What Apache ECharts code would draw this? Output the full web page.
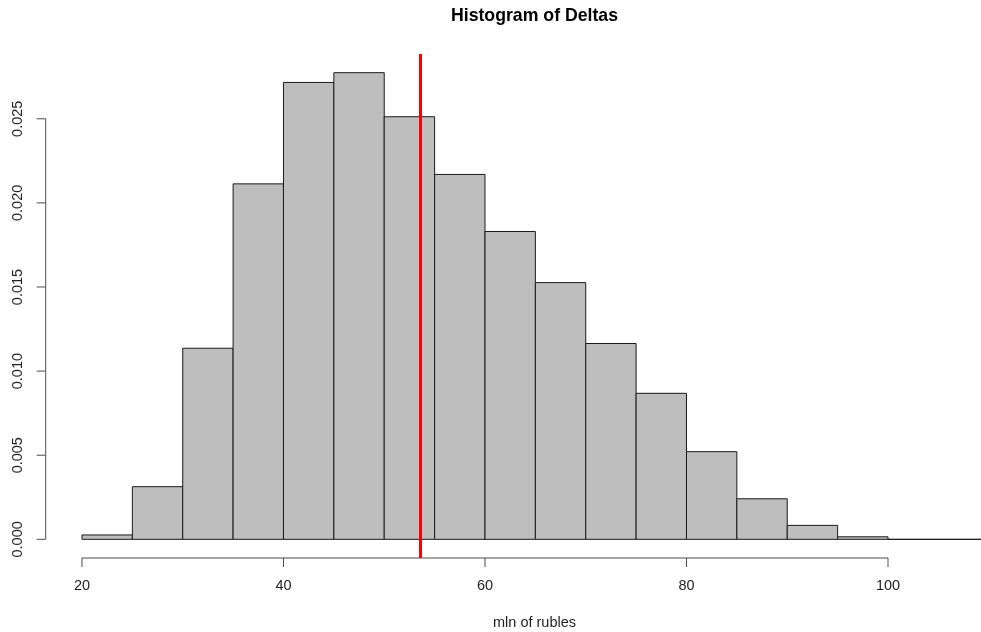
<!DOCTYPE html>
<html>
<head>
<meta charset="utf-8">
<title>Histogram of Deltas</title>
<script src="https://cdn.jsdelivr.net/npm/echarts@6/dist/echarts.min.js"></script>
<style>
  html, body { margin: 0; padding: 0; background: #ffffff; }
  #chart { width: 981px; height: 632px; }
</style>
</head>
<body>
<div id="chart"></div>
<script>
// Histogram bins (left edges, width 5) and their densities
const binStarts = [20, 25, 30, 35, 40, 45, 50, 55, 60, 65, 70, 75, 80, 85, 90, 95, 100, 105];
const binWidth = 5;
const density = [0.00026, 0.00313, 0.01136, 0.02113, 0.02716, 0.02774, 0.02512, 0.02169,
                 0.01830, 0.01526, 0.01164, 0.00868, 0.00521, 0.00241, 0.00083, 0.00015, 0, 0];

// Mean of the deltas, marked with a vertical line
const meanDelta = 53.56;

// Axis ticks
const xTicks = [20, 40, 60, 80, 100];
const yTicks = [0, 0.005, 0.010, 0.015, 0.020, 0.025];
const yTickLabels = ['0.000', '0.005', '0.010', '0.015', '0.020', '0.025'];

const titleText = 'Histogram of Deltas';
const xAxisTitle = 'mln of rubles';

// Plot ranges (data range extended by 4% like base graphics)
const xMin = 16.4, xMax = 109.23;
const yMin = -0.00111, yMax = 0.02885;

const FONT = '"Liberation Sans", Arial, sans-serif';
const AXIS_COLOR = '#4a4a4a';
const TEXT_COLOR = '#1e1e1e';
const TICK_LEN = 9;

const barData = binStarts.map((s, i) => [s, s + binWidth, density[i]]);

const chart = echarts.init(document.getElementById('chart'), null, { renderer: 'canvas' });

chart.setOption({
  animation: false,
  backgroundColor: '#ffffff',
  grid: { left: 45.7, right: 0, top: 54, height: 504 },
  xAxis: {
    type: 'value',
    min: xMin,
    max: xMax,
    axisLine: { show: false, onZero: false },
    splitLine: { show: false },
    axisTick: { show: false },
    axisLabel: {
      customValues: xTicks,
      margin: 20,
      fontSize: 14.5,
      fontFamily: FONT,
      color: TEXT_COLOR
    }
  },
  yAxis: {
    type: 'value',
    min: yMin,
    max: yMax,
    axisLine: { show: false, onZero: false },
    splitLine: { show: false },
    axisTick: { show: false },
    axisLabel: {
      customValues: yTicks,
      rotate: 90,
      margin: 20,
      fontSize: 14.5,
      fontFamily: FONT,
      color: TEXT_COLOR,
      formatter: (v) => {
        const idx = yTicks.findIndex(t => Math.abs(t - v) < 1e-9);
        return idx >= 0 ? yTickLabels[idx] : '';
      }
    }
  },
  graphic: [
    {
      type: 'text',
      x: 534.5,
      y: 16.5,
      style: {
        text: titleText,
        fill: '#000000',
        font: 'bold 17.7px ' + FONT,
        textAlign: 'center',
        textVerticalAlign: 'middle'
      }
    },
    {
      type: 'text',
      x: 534.5,
      y: 623,
      style: {
        text: xAxisTitle,
        fill: TEXT_COLOR,
        font: '14.5px ' + FONT,
        textAlign: 'center',
        textVerticalAlign: 'middle'
      }
    }
  ],
  series: [
    {
      name: 'density',
      type: 'custom',
      clip: true,
      data: barData,
      encode: { x: [0, 1], y: 2 },
      renderItem: (params, api) => {
        const p0 = api.coord([api.value(0), 0]);
        const p1 = api.coord([api.value(1), api.value(2)]);
        return {
          type: 'rect',
          shape: { x: p0[0], y: p1[1], width: p1[0] - p0[0], height: p0[1] - p1[1] },
          style: { fill: '#bebebe', stroke: '#1a1a1a', lineWidth: 1 }
        };
      },
      markLine: {
        silent: true,
        symbol: ['none', 'none'],
        label: { show: false },
        lineStyle: { color: '#ff0000', width: 3, type: 'solid' },
        data: [{ xAxis: meanDelta }]
      },
      z: 2
    },
    {
      // x axis: line from first to last tick, ticks pointing down
      name: 'xAxisTicks',
      type: 'custom',
      clip: false,
      silent: true,
      data: xTicks.map(v => [v, yMin]),
      encode: { x: 0, y: 1 },
      renderItem: (params, api) => {
        const p = api.coord([api.value(0), api.value(1)]);
        const children = [{
          type: 'line',
          shape: { x1: p[0], y1: p[1], x2: p[0], y2: p[1] + TICK_LEN },
          style: { stroke: AXIS_COLOR, lineWidth: 1 }
        }];
        if (params.dataIndex === 0) {
          const end = api.coord([xTicks[xTicks.length - 1], yMin]);
          children.push({
            type: 'line',
            shape: { x1: p[0], y1: p[1], x2: end[0], y2: end[1] },
            style: { stroke: AXIS_COLOR, lineWidth: 1 }
          });
        }
        return { type: 'group', children };
      },
      z: 3
    },
    {
      // y axis: line from first to last tick, ticks pointing left
      name: 'yAxisTicks',
      type: 'custom',
      clip: false,
      silent: true,
      data: yTicks.map(v => [xMin, v]),
      encode: { x: 0, y: 1 },
      renderItem: (params, api) => {
        const p = api.coord([api.value(0), api.value(1)]);
        const children = [{
          type: 'line',
          shape: { x1: p[0], y1: p[1], x2: p[0] - TICK_LEN, y2: p[1] },
          style: { stroke: AXIS_COLOR, lineWidth: 1 }
        }];
        if (params.dataIndex === 0) {
          const end = api.coord([xMin, yTicks[yTicks.length - 1]]);
          children.push({
            type: 'line',
            shape: { x1: p[0], y1: p[1], x2: end[0], y2: end[1] },
            style: { stroke: AXIS_COLOR, lineWidth: 1 }
          });
        }
        return { type: 'group', children };
      },
      z: 3
    }
  ]
});
</script>
</body>
</html>
